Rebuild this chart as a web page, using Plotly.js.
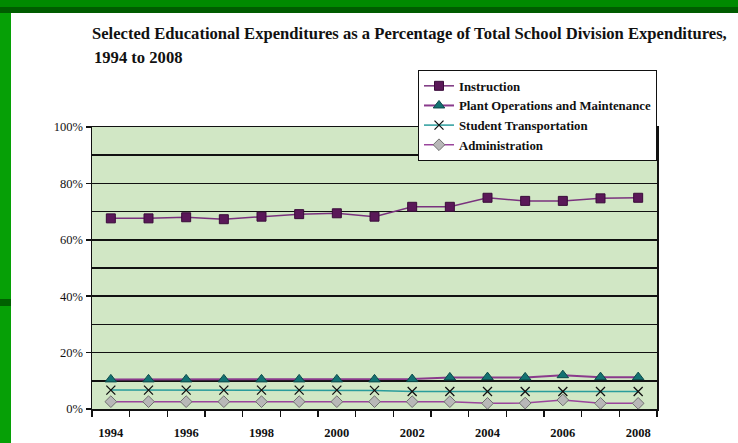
<!DOCTYPE html>
<html>
<head>
<meta charset="utf-8">
<script src="https://cdn.plot.ly/plotly-3.0.1.min.js"></script>
<style>
  html, body { margin: 0; padding: 0; background: #ffffff; }
  #wrap { position: relative; width: 738px; height: 443px; overflow: hidden; background: #ffffff; }
  .deco { position: absolute; }
  #chart { position: absolute; left: 0; top: 0; width: 738px; height: 443px; }
</style>
</head>
<body>
<div id="wrap">
  <div class="deco" style="left:0;top:0;width:738px;height:7px;background:#008a00;"></div>
  <div class="deco" style="left:0;top:7px;width:738px;height:6px;background:#005c00;"></div>
  <div class="deco" style="left:0;top:13px;width:11px;height:430px;background:#06a006;"></div>
  <div class="deco" style="left:0;top:299px;width:11px;height:7px;background:#006000;"></div>
  <div id="chart"></div>
</div>
<script>
// ---- data ----
var years = [1994, 1995, 1996, 1997, 1998, 1999, 2000, 2001, 2002, 2003, 2004, 2005, 2006, 2007, 2008];
var instruction = [67.6, 67.6, 68.0, 67.3, 68.2, 69.1, 69.4, 68.2, 71.7, 71.7, 74.9, 73.8, 73.8, 74.7, 74.9];
var plantOps = [10.5, 10.5, 10.5, 10.5, 10.5, 10.5, 10.5, 10.5, 10.6, 11.2, 11.3, 11.2, 12.0, 11.3, 11.3];
var transport = [6.7, 6.7, 6.7, 6.7, 6.7, 6.7, 6.7, 6.6, 6.2, 6.2, 6.2, 6.2, 6.2, 6.2, 6.2];
var admin = [2.6, 2.6, 2.6, 2.6, 2.6, 2.6, 2.6, 2.6, 2.6, 2.6, 2.0, 2.1, 3.2, 2.0, 2.0];
var seriesNames = ['Instruction', 'Plant Operations and Maintenance', 'Student Transportation', 'Administration'];
var xTickVals = [1994, 1996, 1998, 2000, 2002, 2004, 2006, 2008];
var xTickText = ['1994', '1996', '1998', '2000', '2002', '2004', '2006', '2008'];
var yTickVals = [0, 20, 40, 60, 80, 100];
var yTickText = ['0%', '20%', '40%', '60%', '80%', '100%'];
var titleLine1 = 'Selected Educational Expenditures as a Percentage of Total School Division Expenditures,';
var titleLine2 = '1994 to 2008';

var serif = '"Liberation Serif", "Times New Roman", Times, serif';

var traces = [
  { x: years, y: instruction, name: seriesNames[0], type: 'scatter', mode: 'lines+markers',
    line: { color: '#7a327e', width: 1.5 },
    marker: { symbol: 'square', size: 9, color: '#5a1858', line: { color: '#3a0c3a', width: 1 } } },
  { x: years, y: plantOps, name: seriesNames[1], type: 'scatter', mode: 'lines+markers',
    line: { color: '#8a3a8c', width: 2 },
    marker: { symbol: 'triangle-up', size: 10, color: '#137272', line: { color: '#0a4a4a', width: 1 } } },
  { x: years, y: transport, name: seriesNames[2], type: 'scatter', mode: 'lines+markers',
    line: { color: '#2a9c9c', width: 1.5 },
    marker: { symbol: 'x-thin-open', size: 9, color: '#111111', line: { color: '#111111', width: 1.3 } } },
  { x: years, y: admin, name: seriesNames[3], type: 'scatter', mode: 'lines+markers',
    line: { color: '#9a459c', width: 1.5 },
    marker: { symbol: 'diamond', size: 9, color: '#b8b8b8', line: { color: '#707070', width: 1 } } }
];

var layout = {
  width: 738, height: 443,
  margin: { l: 92, r: 81, t: 127, b: 34, pad: 0 },
  paper_bgcolor: 'rgba(0,0,0,0)',
  plot_bgcolor: '#d1e7c5',
  showlegend: true,
  font: { family: serif },
  title: { text: titleLine1, x: 92 / 738, xanchor: 'left', y: 1 - 33 / 443, yanchor: 'middle',
           font: { family: serif, size: 16.6, color: '#111111', weight: 'bold' } },
  annotations: [{
    text: titleLine2, xref: 'paper', yref: 'paper', x: 0, xanchor: 'left',
    y: (409 - 58) / 282, yanchor: 'middle', showarrow: false,
    font: { family: serif, size: 16.6, color: '#111111', weight: 'bold' }
  }],
  xaxis: {
    range: [1993.5, 2008.5], tickmode: 'array', tickvals: xTickVals, ticktext: xTickText,
    ticks: '', showgrid: false, zeroline: false, showline: true, linecolor: '#111111', linewidth: 1.5,
    mirror: true, ticklabelstandoff: 11,
    tickfont: { family: serif, size: 12.5, color: '#111111', weight: 'bold' },
    minor: { tick0: 1993.5, dtick: 1, ticks: 'outside', ticklen: 6, tickcolor: '#111111', tickwidth: 1.5, showgrid: false }
  },
  yaxis: {
    range: [0, 100], tickmode: 'array', tickvals: yTickVals, ticktext: yTickText,
    ticks: 'outside', ticklen: 5, tickcolor: '#111111', tickwidth: 1.5,
    showgrid: true, gridcolor: '#111111', gridwidth: 1.5, zeroline: false,
    showline: true, linecolor: '#111111', linewidth: 1.5, mirror: true,
    tickfont: { family: serif, size: 12.5, color: '#111111' },
    minor: { tick0: 0, dtick: 10, showgrid: true, gridcolor: '#111111', gridwidth: 1.5, ticks: '' }
  },
  legend: {
    x: (418 - 92) / 565, xanchor: 'left', y: (409 - 70) / 282, yanchor: 'top',
    bgcolor: '#ffffff', bordercolor: '#111111', borderwidth: 1,
    font: { family: serif, size: 12.8, color: '#111111', weight: 'bold' },
    tracegroupgap: 0
  }
};

Plotly.newPlot('chart', traces, layout, { displayModeBar: false, staticPlot: true });
</script>
</body>
</html>
